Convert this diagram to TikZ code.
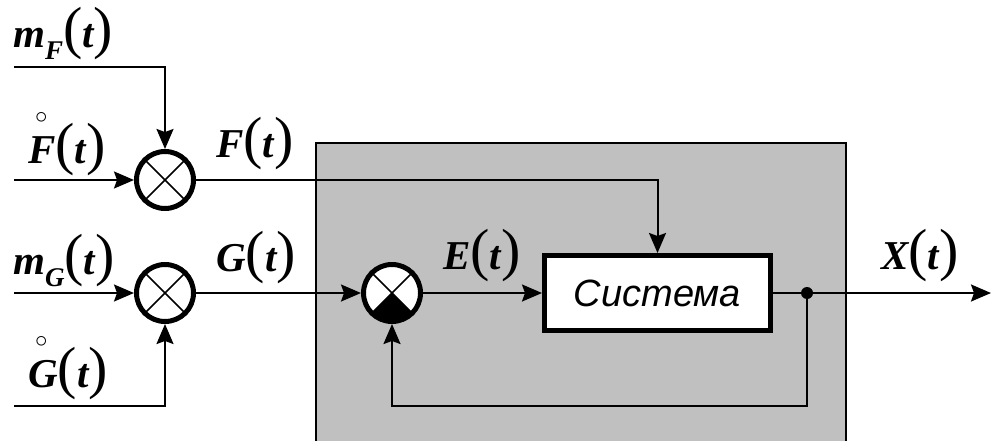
\documentclass[tikz,border=0pt]{standalone}
\usepackage{fontspec}
\setmainfont{Liberation Serif}
\newfontfamily\sysfont{Liberation Sans}
\usetikzlibrary{arrows.meta}
\definecolor{boxgray}{RGB}{192,192,192}
\newcommand{\bi}[1]{{\bfseries\itshape #1}}
\newcommand{\paren}[1]{{\fontsize{58}{58}\selectfont #1}}
\newcommand{\ofT}{\paren{(}\bi{t}\paren{)}}
\newcommand{\ringed}[1]{\makebox[0pt][l]{\kern7pt\raisebox{40pt}{\fontsize{33}{33}\selectfont$\circ$}}#1}
\newcommand{\lowidx}[1]{\raisebox{-12pt}{\fontsize{27}{27}\selectfont\bi{#1}}}

\begin{document}
\begin{tikzpicture}[x=1pt, y=-1pt,
    sig/.style={-{Stealth[length=20pt,width=17pt,inset=3pt]}, line width=2pt},
    mixer/.style={circle, draw, line width=5pt, fill=white, minimum size=57pt, inner sep=0pt},
    blok/.style={draw, line width=5pt, fill=white, minimum width=226pt, minimum height=75pt, inner sep=0pt},
    lbl/.style={inner sep=0pt, anchor=base west, font=\fontsize{41}{41}\selectfont}]
  \useasboundingbox (0,0) rectangle (992,441);
  \fill[boxgray] (316,143) rectangle (846,441);
  \draw[line width=2pt] (316,441) -- (316,143) -- (846,143) -- (846,441);

  \node[mixer] (mulF) at (165,180) {};
  \node[mixer] (mulG) at (165,293) {};
  \node[mixer] (sum) at (392,293) {};
  \node[blok, font=\sysfont\itshape\fontsize{38}{38}\selectfont] (sys) at (657.5,293) {Система};

  \begin{scope}
    \clip (sum.center) -- +(-40pt,-40pt) -- +(40pt,-40pt) -- cycle;
    \fill (sum.center) circle[radius=29pt];
  \end{scope}
  \foreach \m in {mulF, mulG, sum} {
    \draw[line width=1.5pt] (\m.north west) -- (\m.south east)
      (\m.north east) -- (\m.south west);
  }

  \coordinate (mFin) at (14,67);
  \coordinate (Fin) at (14,180);
  \coordinate (mGin) at (14,293);
  \coordinate (Gin) at (14,406);
  \coordinate (tap) at (807,293);
  \coordinate (out) at (991,293);

  \draw[sig] (mFin) -| (mulF.north);
  \draw[sig] (Fin) -- (mulF.west);
  \draw[sig] (mGin) -- (mulG.west);
  \draw[sig] (Gin) -| (mulG.south);
  \draw[sig] (mulF.east) -| (sys.north);
  \draw[sig] (mulG.east) -- (sum.west);
  \draw[sig] (sum.east) -- (sys.west);
  \draw[sig] (sys.east) -- (out);
  \draw[sig] (tap) -- ++(0,113) -| (sum.south);
  \fill (tap) circle[radius=6pt];

  \node[lbl] (lmF) at (13,48) {\bi{m}\lowidx{F}\ofT};
  \node[lbl] (lF0) at (28,163) {\ringed{\bi{F}}\ofT};
  \node[lbl] (lF) at (216,157) {\bi{F}\ofT};
  \node[lbl] (lmG) at (13,274) {\bi{m}\lowidx{G}\ofT};
  \node[lbl] (lG) at (216,271) {\bi{G}\ofT};
  \node[lbl] (lG0) at (28,387) {\ringed{\bi{G}}\ofT};
  \node[lbl] (lE) at (443,269) {\bi{E}\ofT};
  \node[lbl] (lX) at (881,269) {\bi{X}\ofT};
\end{tikzpicture}
\end{document}
